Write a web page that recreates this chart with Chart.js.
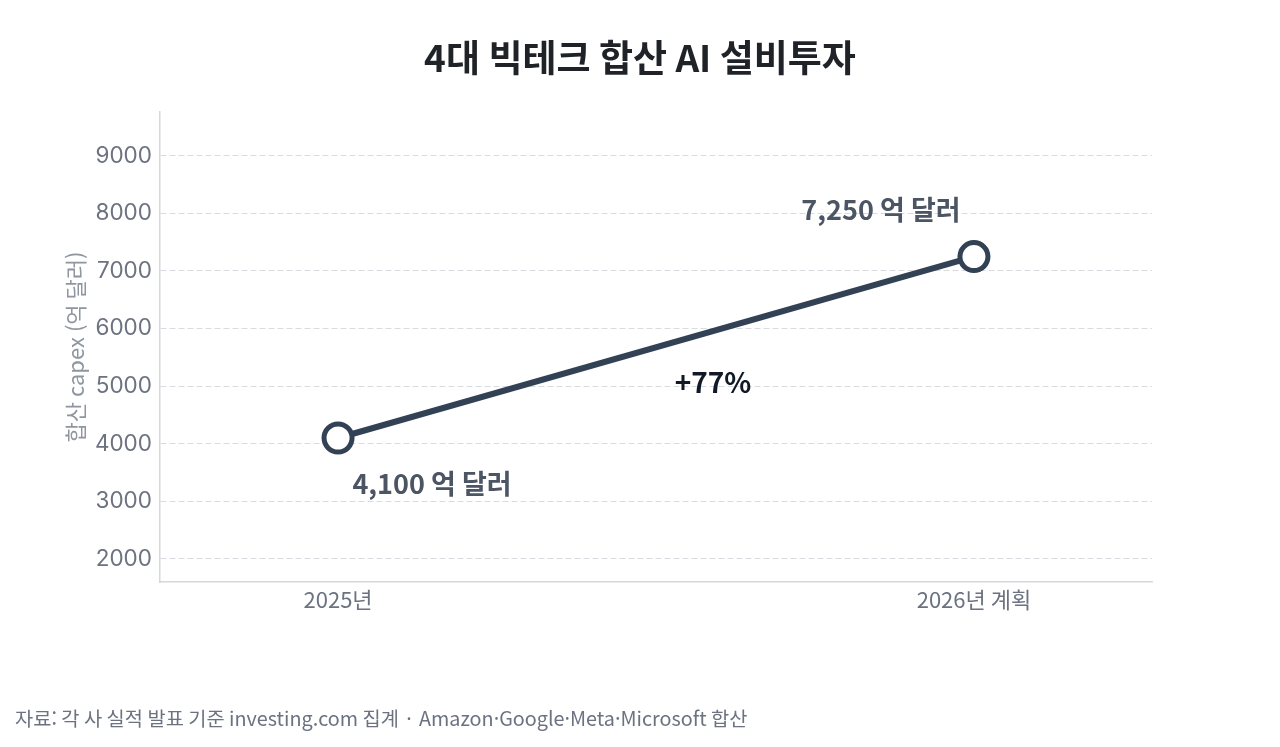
<!DOCTYPE html>
<html lang="ko">
<head>
<meta charset="utf-8">
<script src="https://cdn.jsdelivr.net/npm/chart.js@4/dist/chart.umd.min.js"></script>
<style>
  html, body { margin: 0; padding: 0; background: #ffffff; }
  #wrap { width: 1280px; height: 747px; position: relative; }
</style>
</head>
<body>
<div id="wrap"><canvas id="c" width="1280" height="747"></canvas></div>
<script>
const categories = ["2025년", "2026년 계획"];
const capexValues = [4100, 7250];
const valueLabels = ["4,100 억 달러", "7,250 억 달러"];
const changeLabel = "+77%";
const yTicks = [2000, 3000, 4000, 5000, 6000, 7000, 8000, 9000];
const titleText = "4대 빅테크 합산 AI 설비투자";
const yTitleText = "합산 capex (억 달러)";
const sourceText = "자료: 각 사 실적 발표 기준 investing.com 집계 · Amazon·Google·Meta·Microsoft 합산";

const FONT = "Inter, 'Noto Sans CJK KR', 'Noto Sans', sans-serif";
const KFONT = "'Noto Sans CJK KR', 'Noto Sans', sans-serif";
const LINE = "#334155";

const annotatePlugin = {
  id: "annotate",
  afterDatasetsDraw(chart) {
    const ctx = chart.ctx;
    const xs = chart.scales.x, ys = chart.scales.y;
    const p0x = xs.getPixelForValue(0), p0y = ys.getPixelForValue(capexValues[0]);
    const p1x = xs.getPixelForValue(1), p1y = ys.getPixelForValue(capexValues[1]);
    ctx.save();
    ctx.textAlign = "center";
    ctx.textBaseline = "middle";
    ctx.font = "bold 27px " + KFONT;
    ctx.fillStyle = "#4b5563";
    ctx.fillText(valueLabels[0], p0x + 94, p0y + 46);
    ctx.fillText(valueLabels[1], p1x - 93, p1y - 47);
    ctx.fillStyle = "#111827";
    ctx.font = "bold 28px " + KFONT;
    ctx.fillText(changeLabel, (p0x + p1x) / 2 + 57, (p0y + p1y) / 2 + 35);
    ctx.restore();
  },
  afterDraw(chart) {
    const ctx = chart.ctx;
    ctx.save();
    ctx.textBaseline = "middle";
    ctx.textAlign = "center";
    ctx.font = "bold 37px " + KFONT;
    ctx.fillStyle = "#1f2328";
    ctx.fillText(titleText, chart.width / 2, 58);
    ctx.textAlign = "left";
    ctx.font = "19.8px " + KFONT;
    ctx.fillStyle = "#6b7280";
    ctx.fillText(sourceText, 15, 718);
    ctx.restore();
  }
};

new Chart(document.getElementById("c"), {
  type: "line",
  data: {
    datasets: [{
      data: capexValues.map((v, i) => ({ x: i, y: v })),
      borderColor: LINE,
      borderWidth: 6,
      pointRadius: 14,
      pointHoverRadius: 14,
      pointBackgroundColor: "#ffffff",
      pointBorderColor: LINE,
      pointBorderWidth: 5,
      tension: 0,
      clip: false
    }]
  },
  options: {
    responsive: false,
    animation: false,
    devicePixelRatio: 1,
    layout: { padding: { top: 112, left: 62, right: 128, bottom: 0 } },
    plugins: {
      legend: { display: false },
      tooltip: { enabled: false },
      title: { display: false }
    },
    scales: {
      x: {
        type: "linear",
        min: -0.28,
        max: 1.28,
        afterBuildTicks: s => { s.ticks = categories.map((c, i) => ({ value: i })); },
        afterFit: s => { s.height = 165; },
        ticks: {
          callback: v => categories[v] ?? "",
          color: "#6b7280",
          font: { family: KFONT, size: 22 },
          padding: 4,
          maxRotation: 0
        },
        grid: { display: false, drawTicks: false },
        border: { display: true, color: "#d4d7dc", width: 1.5 }
      },
      y: {
        min: 1600,
        max: 9760,
        afterBuildTicks: s => { s.ticks = yTicks.map(v => ({ value: v })); },
        afterFit: s => { s.width = 98; },
        title: {
          display: true,
          text: yTitleText,
          color: "#9096a0",
          font: { family: KFONT, size: 22 },
          padding: { top: 0, bottom: 2 }
        },
        ticks: {
          callback: v => String(v),
          color: "#6b7280",
          font: { family: FONT, size: 22.5 },
          padding: 8
        },
        grid: {
          color: "#d8dbe0",
          lineWidth: 1,
          drawTicks: false
        },
        border: { display: true, color: "#d4d7dc", width: 1.5, dash: [6, 3] }
      }
    }
  },
  plugins: [annotatePlugin]
});
</script>
</body>
</html>
